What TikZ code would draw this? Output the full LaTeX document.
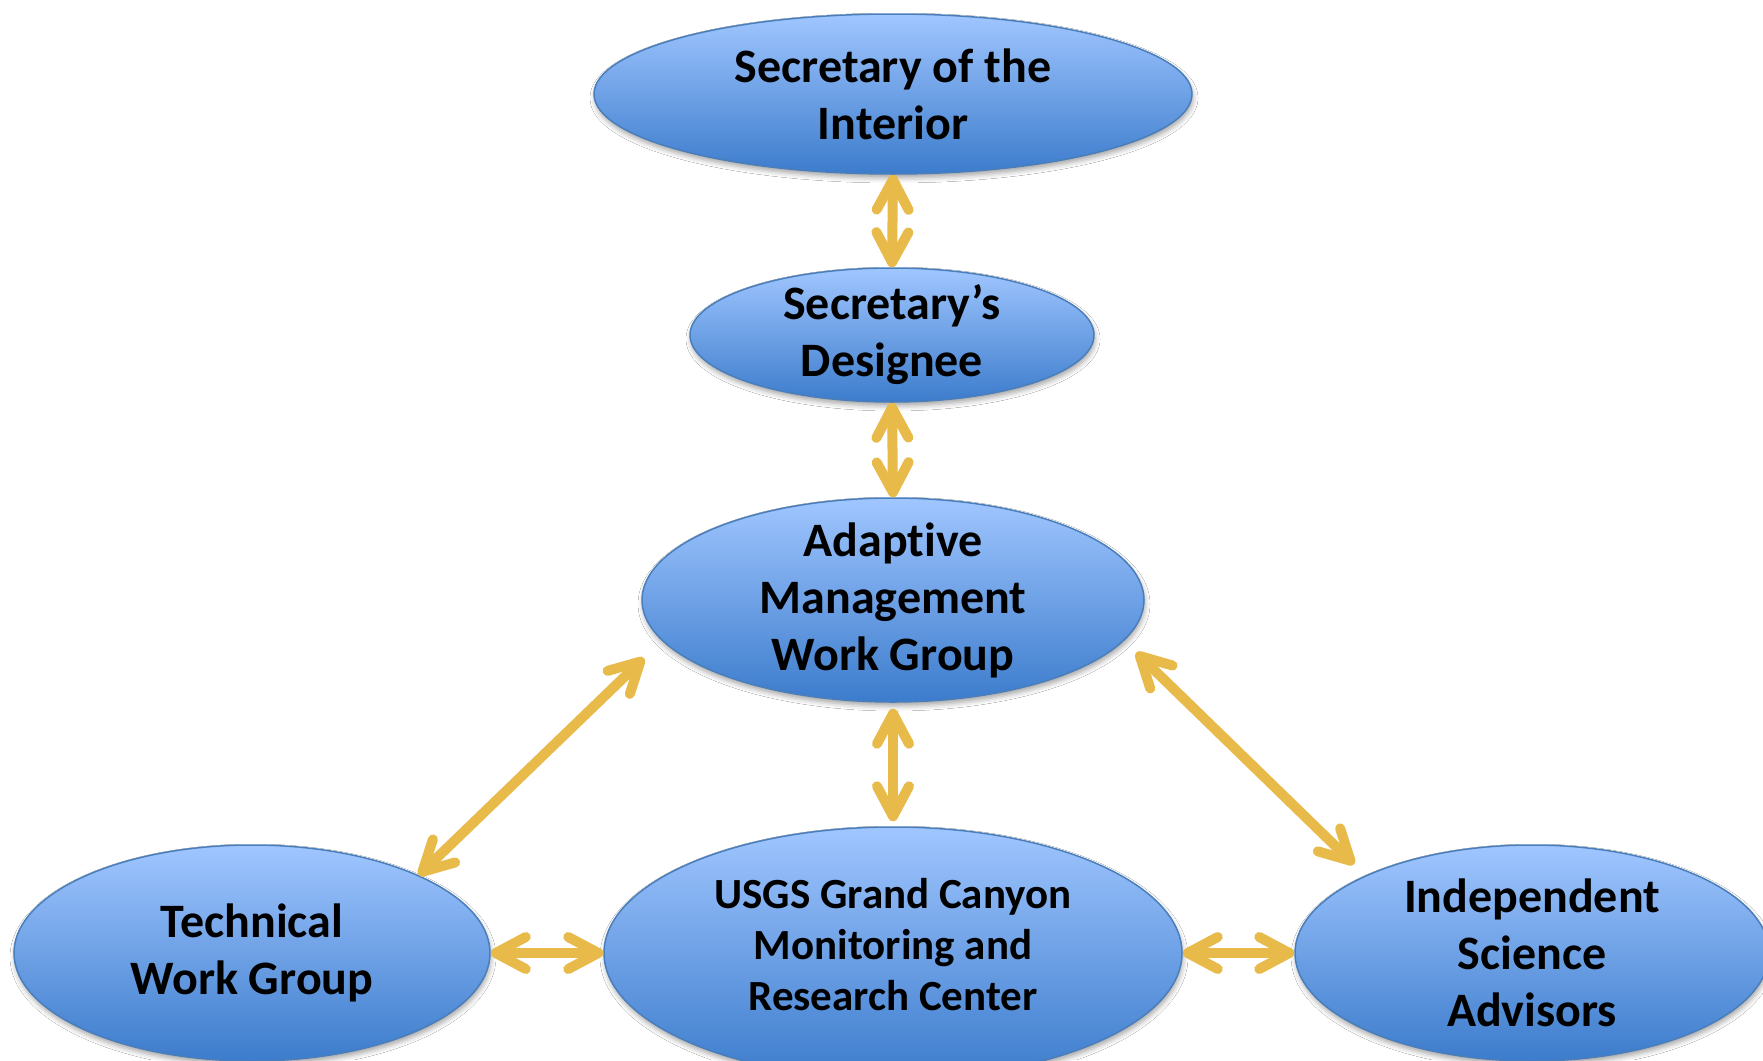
\documentclass[tikz,border=0pt]{standalone}
\usepackage{fontspec}
\setmainfont{Carlito}[Ligatures=NoCommon]
\usetikzlibrary{shapes.geometric,arrows.meta,shadows.blur}
\definecolor{ellTop}{RGB}{160,198,255}
\definecolor{ellBot}{RGB}{60,124,204}
\definecolor{ellLine}{RGB}{74,126,187}
\definecolor{gold}{RGB}{232,186,74}
\tikzset{
  org/.style={ellipse, draw=ellLine, line width=1.5pt, top color=ellTop, bottom color=ellBot, inner sep=0pt,
    blur shadow={shadow xshift=1pt, shadow yshift=-4pt, shadow blur radius=5pt, shadow opacity=35}},
  txt/.style={font=\fontsize{48}{57}\selectfont\bfseries, align=center, text=black, inner sep=0pt},
  txtsmall/.style={font=\fontsize{43}{51}\selectfont\bfseries, align=center, text=black, inner sep=0pt},
  link/.style={draw=gold, line width=10pt, line cap=round, >={Straight Barb[length=30pt,width=32pt,round]}, <->,
    preaction={draw=black!60, opacity=0.18, transform canvas={xshift=1.5pt,yshift=-3pt}}}
}
\begin{document}
\begin{tikzpicture}[x=1pt,y=-1pt]
\useasboundingbox (0,0) rectangle (1763,1060);
\fill[white] (0,0) rectangle (1763,1060);
\node[org, minimum width=598pt, minimum height=160pt, label={[txt]center:{Secretary of the\\Interior}}] (si) at (893,94) {};
\node[org, minimum width=404pt, minimum height=134pt, label={[txt]center:{Secretary’s\\Designee}}] (sd) at (892,335) {};
\node[org, minimum width=502pt, minimum height=204pt, label={[txt]center:{Adaptive\\Management\\Work Group}}] (amwg) at (893,600) {};
\node[org, minimum width=476pt, minimum height=216pt, label={[txt]center:{Technical\\Work Group}}] (twg) at (252,953) {};
\node[org, minimum width=578pt, minimum height=252pt, label={[txtsmall,yshift=8pt]center:{USGS Grand Canyon\\Monitoring and\\Research Center}}] (usgs) at (893,953) {};
\node[org, minimum width=474pt, minimum height=216pt, label={[txt]center:{Independent\\Science\\Advisors}}] (isa) at (1532,953) {};
\draw[link] (si.south) -- (sd.north);
\draw[link] (sd.south) -- (amwg.north);
\draw[link, shorten <=6pt, shorten >=5pt] (amwg.south) -- (usgs.north);
\draw[link, shorten <=25pt] (amwg.190) -- (twg.25);
\draw[link, shorten <=17pt, shorten >=16pt] (amwg.350) -- (isa.155);
\draw[link] (twg.east) -- (usgs.west);
\draw[link] (usgs.east) -- (isa.west);
\end{tikzpicture}
\end{document}
